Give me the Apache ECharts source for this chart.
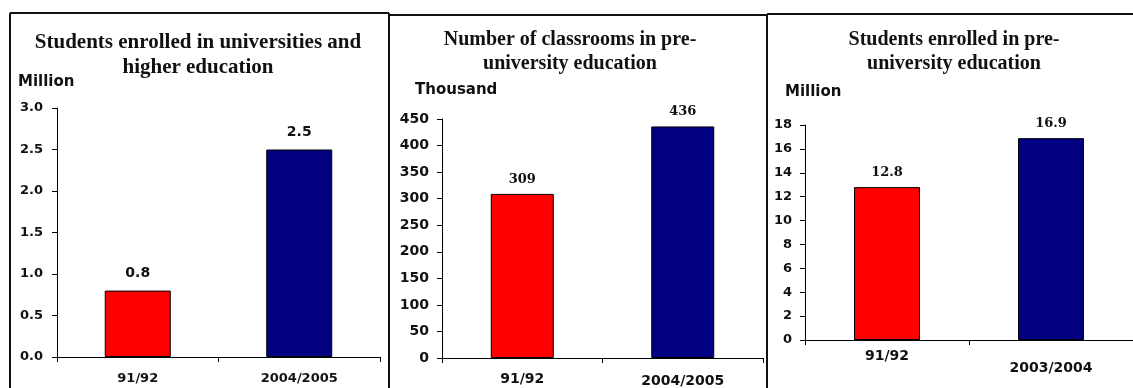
<!DOCTYPE html>
<html>
<head>
<meta charset="utf-8">
<script src="https://cdn.jsdelivr.net/npm/echarts@6/dist/echarts.min.js"></script>
<style>
  html, body { margin: 0; padding: 0; background: #ffffff; }
  #chart { width: 1133px; height: 388px; }
</style>
</head>
<body>
<div id="chart"></div>
<script>
// Higher education enrolment (million students)
const universityCategories = ['91/92', '2004/2005'];
const universityValues = [0.8, 2.5];

// Pre-university classrooms (thousand)
const classroomCategories = ['91/92', '2004/2005'];
const classroomValues = [309, 436];

// Pre-university enrolment (million students)
const preUniversityCategories = ['91/92', '2003/2004'];
const preUniversityValues = [12.8, 16.9];

const panelTitles = [
  'Students enrolled in universities and\nhigher education',
  'Number of classrooms in pre-\nuniversity education',
  'Students enrolled in pre-\nuniversity education'
];
const unitNames = ['Million', 'Thousand', 'Million'];
const barColors = ['#ff0000', '#000080'];

const SANS = '"DejaVu Sans", Verdana, sans-serif';
const SERIF_T = '"Liberation Serif", "Times New Roman", serif';
const SERIF_D = '"DejaVu Serif", serif';
const INK = '#000000';

const chart = echarts.init(document.getElementById('chart'), null, { renderer: 'canvas' });

function categoryAxis(gridIndex, cats, fontSize, extraPad) {
  return {
    type: 'category',
    gridIndex: gridIndex,
    data: cats.map((c, i) => ({
      value: c,
      textStyle: { padding: [extraPad[i], 0, 0, 0] }
    })),
    boundaryGap: true,
    axisLine: { lineStyle: { color: INK, width: 1 } },
    axisTick: { show: true, length: 5, lineStyle: { color: INK, width: 1 } },
    axisLabel: {
      color: '#111111', fontFamily: SANS, fontWeight: 'bold', fontSize: fontSize,
      margin: 8
    },
    splitLine: { show: false }
  };
}

function valueAxis(gridIndex, max, interval, fontSize, margin, digits) {
  return {
    type: 'value',
    gridIndex: gridIndex,
    min: 0, max: max, interval: interval,
    axisLine: { show: true, lineStyle: { color: INK, width: 1 } },
    axisTick: { show: true, length: 5, lineStyle: { color: INK, width: 1 } },
    axisLabel: {
      color: '#111111', fontFamily: SANS, fontWeight: 'bold', fontSize: fontSize,
      margin: margin,
      formatter: v => v.toFixed(digits)
    },
    splitLine: { show: false }
  };
}

function barSeries(index, values, barWidth, labelFont, labelSize, labelDist, labelFmt) {
  return {
    type: 'bar',
    xAxisIndex: index, yAxisIndex: index,
    barWidth: barWidth,
    data: values.map((v, i) => ({
      value: v,
      itemStyle: { color: barColors[i], borderColor: '#000000', borderWidth: 1 }
    })),
    label: {
      show: true, position: 'top', distance: labelDist,
      color: '#111111', fontFamily: labelFont, fontWeight: 'bold', fontSize: labelSize,
      formatter: p => labelFmt(p.value)
    },
    animation: false
  };
}

function border(x1, y1, x2, y2) {
  return {
    type: 'line', silent: true,
    shape: { x1: x1, y1: y1, x2: x2, y2: y2 },
    style: { stroke: '#111111', lineWidth: 2 }
  };
}

function textAt(x, y, text, font, size, align, lineHeight) {
  return {
    type: 'text', silent: true, x: x, y: y,
    style: {
      text: text, fill: '#111111', fontFamily: font, fontWeight: 'bold', fontSize: size,
      align: align, verticalAlign: 'middle', lineHeight: lineHeight || size
    }
  };
}

const option = {
  backgroundColor: '#ffffff',
  animation: false,
  grid: [
    { left: 57, top: 108, width: 323, height: 249 },
    { left: 442, top: 119, width: 321, height: 239 },
    { left: 805, top: 125, width: 334, height: 215 }
  ],
  xAxis: [
    categoryAxis(0, universityCategories, 13, [7, 7]),
    categoryAxis(1, classroomCategories, 14, [6, 8]),
    categoryAxis(2, preUniversityCategories, 14, [1, 13])
  ],
  yAxis: [
    valueAxis(0, 3, 0.5, 13, 14, 1),
    valueAxis(1, 450, 50, 14, 13, 0),
    valueAxis(2, 18, 2, 13, 13, 0)
  ],
  series: [
    barSeries(0, universityValues, 66, SANS, 14, 10, v => v.toFixed(1)),
    barSeries(1, classroomValues, 63, SERIF_D, 13, 8, v => String(v)),
    barSeries(2, preUniversityValues, 66, SERIF_D, 13, 8, v => v.toFixed(1))
  ],
  graphic: [
    // panel frames
    border(10, 13, 389, 13),
    border(10, 13, 10, 390),
    border(389, 13, 389, 390),
    border(389, 15, 767, 15),
    border(767, 14, 767, 390),
    border(767, 14, 1135, 14),
    // panel titles
    textAt(198, 55.5, panelTitles[0], SERIF_T, 21, 'center', 25),
    textAt(570, 52, panelTitles[1], SERIF_T, 20, 'center', 24),
    textAt(954, 52, panelTitles[2], SERIF_T, 20, 'center', 24),
    // unit captions
    textAt(18, 82, unitNames[0], SANS, 15, 'left'),
    textAt(415, 90, unitNames[1], SANS, 15, 'left'),
    textAt(785, 92, unitNames[2], SANS, 15, 'left')
  ]
};

chart.setOption(option);
</script>
</body>
</html>
